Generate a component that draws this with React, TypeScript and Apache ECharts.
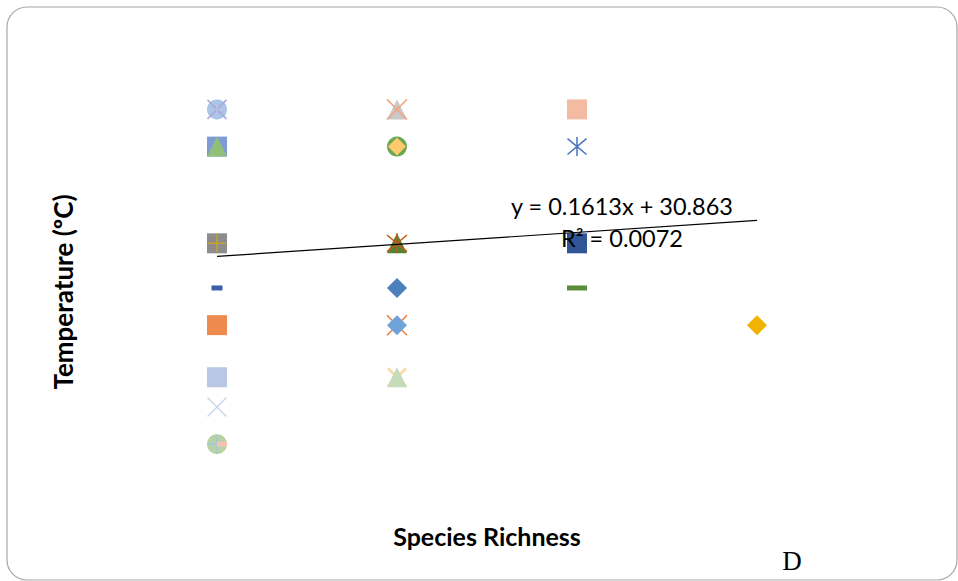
import React, { useEffect, useRef } from "react";
import * as echarts from "echarts";

// ---- data ----
const speciesRichness = [1, 1, 1, 1, 1, 1, 1, 1, 2, 2, 2, 2, 2, 2, 3, 3, 3, 3, 4];
const temperature = [
  33.0, 32.5, 31.2, 30.6, 30.1, 29.4, 29.0, 28.5,
  33.0, 32.5, 31.2, 30.6, 30.1, 29.4,
  33.0, 32.5, 31.2, 30.6,
  30.1,
];
const trendSlope = 0.1613;
const trendIntercept = 30.863;
const trendLabel = ["y = 0.1613x + 30.863", "R² = 0.0072"];
const xTitle = "Species Richness";
const yTitle = "Temperature (ºC)";
const panelLetter = "D";

// ---- marker styles (one list of layers per point, bottom to top) ----
const X = "path://M0,0L10,10M10,0L0,10";
const PLUS = "path://M5,0L5,10M0,5L10,5";
const STAR = "path://M0,0L10,10M10,0L0,10M5,-1L5,11";
type Layer = { s: string; size: number | number[]; fill?: string; stroke?: string; lw?: number; off?: number[] };
const markerLayers: Layer[][] = [
  [{ s: "circle", size: 20, fill: "#a9c4e6" }, { s: X, size: 19, stroke: "#a9a9d9", lw: 1.5 }, { s: PLUS, size: 18, stroke: "#b8c8e8", lw: 1 }],
  [{ s: "rect", size: 20, fill: "#7f9bd6" }, { s: "triangle", size: 20, fill: "#8fbf78" }],
  [{ s: "rect", size: 20, fill: "#8c8c8c" }, { s: PLUS, size: 18, stroke: "#c9a227", lw: 1.5 }],
  [{ s: "rect", size: [11, 5], fill: "#3a5fa8" }],
  [{ s: "rect", size: 20, fill: "#ef8a4f" }],
  [{ s: "rect", size: 20, fill: "#bac6e6" }],
  [{ s: X, size: 19, stroke: "#c6d7ef", lw: 1.5 }],
  [{ s: "circle", size: 20, fill: "#b5d3a5" }, { s: PLUS, size: 18, stroke: "#a9c4e6", lw: 1.5 }, { s: "rect", size: [10, 5], fill: "#f6c4ae", off: [5, 0] }],
  [{ s: "triangle", size: 20, fill: "#c9c9c9" }, { s: X, size: 20, stroke: "#f4a582", lw: 1.5 }],
  [{ s: "circle", size: 20, fill: "#6aa84f" }, { s: "diamond", size: 18, fill: "#ffca6e" }],
  [{ s: "triangle", size: 20, fill: "#548235" }, { s: STAR, size: 20, stroke: "#c55a11", lw: 1.5 }],
  [{ s: "diamond", size: 20, fill: "#4a81bd" }],
  [{ s: X, size: 20, stroke: "#ed7d31", lw: 1.5 }, { s: "diamond", size: 20, fill: "#6fa3da" }],
  [{ s: X, size: 18, stroke: "#fbd9a8", lw: 3 }, { s: "triangle", size: 20, fill: "#c5dbb9" }],
  [{ s: "rect", size: 20, fill: "#f4bba3" }],
  [{ s: STAR, size: 19, stroke: "#4472c4", lw: 1.5 }],
  [{ s: "rect", size: 20, fill: "#2f5597" }],
  [{ s: "rect", size: [20, 5], fill: "#5b8c3a" }],
  [{ s: "diamond", size: 20, fill: "#f0b400" }],
];

export default function App() {
  const ref = useRef<HTMLDivElement>(null);
  useEffect(() => {
    if (!ref.current) return;
    const chart = echarts.init(ref.current, null, { renderer: "svg" });
    const series: any[] = [];
    const maxLayers = Math.max(...markerLayers.map((l) => l.length));
    for (let j = 0; j < maxLayers; j++) {
      speciesRichness.forEach((x, i) => {
        const layer = markerLayers[i][j];
        if (!layer) return;
        series.push({
          type: "scatter",
          data: [[x, temperature[i]]],
          symbol: layer.s,
          symbolSize: layer.size,
          symbolOffset: layer.off || [0, 0],
          silent: true,
          z: 2 + j,
          itemStyle: {
            color: layer.fill || "rgba(0,0,0,0)",
            borderColor: layer.stroke || undefined,
            borderWidth: layer.stroke ? layer.lw || 1 : 0,
            opacity: 1,
          },
        });
      });
    }
    const xMin = Math.min(...speciesRichness);
    const xMax = Math.max(...speciesRichness);
    series.push({
      type: "line",
      data: [
        [xMin, trendSlope * xMin + trendIntercept],
        [xMax, trendSlope * xMax + trendIntercept],
      ],
      symbol: "none",
      silent: true,
      z: 20,
      lineStyle: { color: "#000", width: 1.2 },
    });
    chart.setOption({
      animation: false,
      grid: { left: 37, width: 900, top: 35, height: 446.4 },
      xAxis: { type: "value", min: 0, max: 5, show: false },
      yAxis: { type: "value", min: 28, max: 34, show: false },
      series,
      graphic: [
        {
          type: "rect",
          shape: { x: 7, y: 7, width: 950, height: 573, r: 20 },
          style: { fill: "none", stroke: "#a6a6a6", lineWidth: 1.2 },
          silent: true,
          z: 0,
        },
        {
          type: "text",
          x: 622,
          y: 206,
          z: 30,
          style: { text: trendLabel[0], font: "23.5px Lato", fill: "#000", textAlign: "center", textVerticalAlign: "middle" },
        },
        {
          type: "text",
          x: 622,
          y: 238,
          z: 30,
          style: { text: trendLabel[1], font: "23.5px Lato", fill: "#000", textAlign: "center", textVerticalAlign: "middle" },
        },
        {
          type: "text",
          x: 487,
          y: 536,
          style: { text: xTitle, font: "bold 25px Lato", fill: "#000", textAlign: "center", textVerticalAlign: "middle" },
        },
        {
          type: "text",
          x: 63,
          y: 292,
          rotation: Math.PI / 2,
          style: { text: yTitle, font: "bold 26px Lato", fill: "#000", textAlign: "center", textVerticalAlign: "middle" },
        },
        {
          type: "text",
          x: 792,
          y: 561,
          style: { text: panelLetter, font: "27px 'Liberation Serif'", fill: "#000", textAlign: "center", textVerticalAlign: "middle" },
        },
      ],
    });
    return () => chart.dispose();
  }, []);
  return <div ref={ref} style={{ position: "absolute", left: 0, top: 0, width: 958, height: 581 }} />;
}
